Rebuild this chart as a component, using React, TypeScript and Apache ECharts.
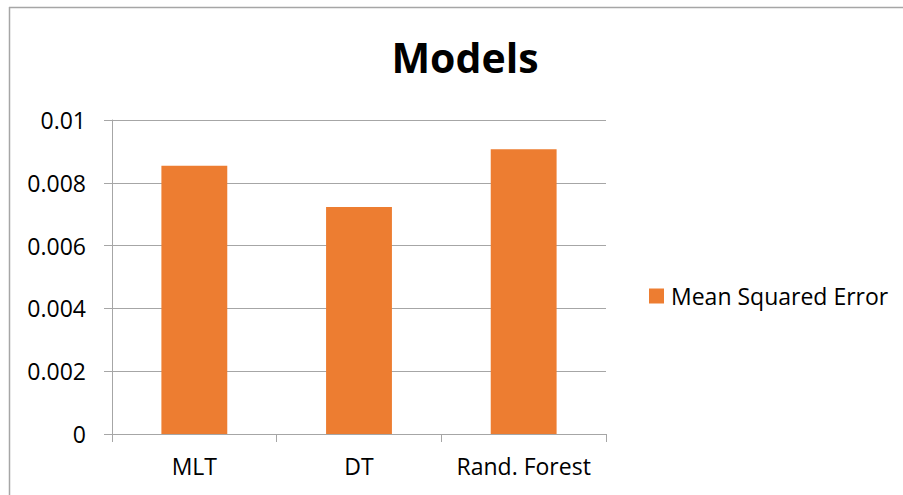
import React, { useEffect, useRef } from "react";
import * as echarts from "echarts";

const categories = ["MLT", "DT", "Rand. Forest"];
const mseValues = [0.00854, 0.00723, 0.00907];
const seriesName = "Mean Squared Error";
const titleText = "Models";

const FONT = "'Open Sans', sans-serif";
const GRAY = "#A6A6A6";

export default function App() {
  const ref = useRef<HTMLDivElement>(null);
  useEffect(() => {
    if (!ref.current) return;
    const chart = echarts.init(ref.current, null, { renderer: "svg" });
    chart.setOption({
      animation: false,
      backgroundColor: "#ffffff",
      title: {
        text: titleText,
        left: 460,
        textAlign: "center",
        top: 31,
        textStyle: { fontFamily: FONT, fontWeight: "bold", fontSize: 41, color: "#000" },
      },
      legend: {
        left: 644,
        top: 279,
        itemWidth: 15,
        itemHeight: 15,
        icon: "rect",
        textStyle: { fontFamily: FONT, fontSize: 23, color: "#000", lineHeight: 24, padding: [0, 0, 0, 2] },
        data: [seriesName],
      },
      grid: { left: 112, right: 297, top: 120, bottom: 61, containLabel: false },
      xAxis: {
        type: "category",
        data: categories,
        axisLine: { lineStyle: { color: GRAY, width: 1 } },
        axisTick: { show: true, length: 8, interval: 0, lineStyle: { color: GRAY } },
        axisLabel: { fontFamily: FONT, fontSize: 23, color: "#000", margin: 20, interval: 0, hideOverlap: false },
      },
      yAxis: {
        type: "value",
        min: 0,
        max: 0.01,
        interval: 0.002,
        axisLine: { show: true, lineStyle: { color: GRAY, width: 1 } },
        axisTick: { show: true, length: 8, lineStyle: { color: GRAY } },
        splitLine: { lineStyle: { color: GRAY, width: 1 } },
        axisLabel: {
          fontFamily: FONT,
          fontSize: 23,
          color: "#000",
          margin: 26,
          formatter: (v: number) => (v === 0 ? "0" : String(parseFloat(v.toFixed(3)))),
        },
      },
      series: [
        {
          name: seriesName,
          type: "bar",
          data: mseValues,
          barWidth: "40%",
          itemStyle: { color: "#ED7D31" },
        },
      ],
      graphic: [
        { type: "line", shape: { x1: 9, y1: 7.5, x2: 903, y2: 7.5 }, style: { stroke: GRAY, lineWidth: 1.5 } },
        { type: "line", shape: { x1: 9.5, y1: 7, x2: 9.5, y2: 495 }, style: { stroke: GRAY, lineWidth: 1.5 } },
      ],
    });
    return () => chart.dispose();
  }, []);
  return (
    <div
      ref={ref}
      style={{ position: "absolute", left: 0, top: 0, width: 903, height: 495 }}
    />
  );
}
